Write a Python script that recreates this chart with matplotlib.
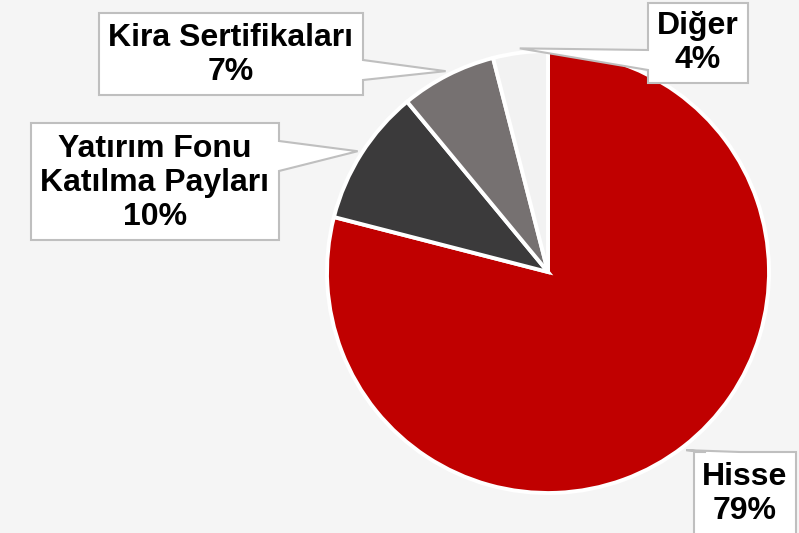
import matplotlib
matplotlib.use('Agg')
import matplotlib.pyplot as plt
import numpy as np
from matplotlib.patches import Polygon

# Portfolio distribution
labels = ['Hisse', 'Yatırım Fonu\nKatılma Payları', 'Kira Sertifikaları', 'Diğer']
shares = [79, 10, 7, 4]
colors = ['#c00000', '#3b3a3b', '#767171', '#f2f2f2']

W, H = 799, 533
fig = plt.figure(figsize=(W / 100, H / 100), dpi=100)
fig.patch.set_facecolor('#f5f5f5')
ax = fig.add_axes([0, 0, 1, 1])

cx, cy, r = 548, H - 272, 221
wedges, _ = ax.pie(shares, colors=colors, startangle=90, counterclock=False,
                   center=(cx, cy), radius=r, frame=True,
                   wedgeprops=dict(edgecolor='white', linewidth=2.8))
ax.set_xlim(0, W)
ax.set_ylim(0, H)
ax.set_aspect('equal')
ax.axis('off')

# callout boxes in image pixels: (x0, y0, x1, y1), side the pointer leaves from, pointer span
boxes = [
    ((694, 452, 796, 540), 'top', (706, 740)),
    ((31, 123, 279, 240), 'right', (141, 171)),
    ((99, 13, 363, 95), 'right', (60, 80)),
    ((648, 3, 748, 83), 'left', (50, 70)),
]
text_y = [494, 183, 55, 43]

for w, lab, val, (box, side, span), yt in zip(wedges, labels, shares, boxes, text_y):
    mid = np.deg2rad((w.theta1 + w.theta2) / 2)
    tx = cx + 1.02 * r * np.cos(mid)
    ty = cy + 1.02 * r * np.sin(mid)
    x0, y0, x1, y1 = box
    y0, y1 = H - y0, H - y1  # flip to axes coords
    a, b = span
    if side == 'right':
        pts = [(x0, y0), (x1, y0), (x1, H - a), (tx, ty), (x1, H - b), (x1, y1), (x0, y1)]
    elif side == 'left':
        pts = [(x0, y0), (x1, y0), (x1, y1), (x0, y1), (x0, H - b), (tx, ty), (x0, H - a)]
    else:
        pts = [(x0, y0), (a, y0), (tx, ty), (b, y0), (x1, y0), (x1, y1), (x0, y1)]
    ax.add_patch(Polygon(pts, closed=True, facecolor='white', edgecolor='#bfbfbf',
                         linewidth=1.5, zorder=3))
    ax.text((x0 + x1) / 2, H - yt, f'{lab}\n{val}%', ha='center', va='center',
            fontsize=23, fontweight='bold', family='Liberation Sans',
            linespacing=1.17, zorder=4)

fig.savefig('out.png', dpi=100, facecolor=fig.get_facecolor())
